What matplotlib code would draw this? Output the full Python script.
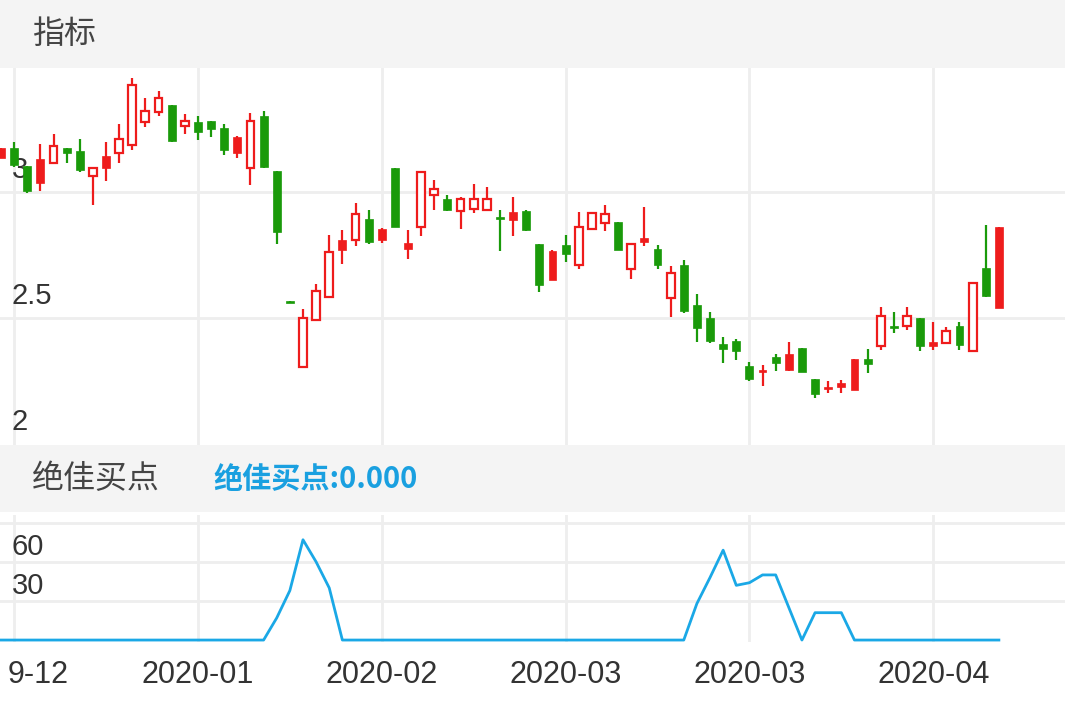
import matplotlib
matplotlib.use("Agg")
import matplotlib.pyplot as plt
from matplotlib.patches import Rectangle

plt.rcParams['font.family'] = ['Noto Sans CJK SC', 'DejaVu Sans']

def pv(y):
    return round(3 - (y - 192) / 252, 3)

highs = [pv(v) for v in [148,142,166,144,134,148,139,167,142,124,78,98,91,105,114,116,121,124,136,113,111,171,301,309,284,235,230,203,210,228,168,230,172,180,195,197,184,187,210,197,210,244,250,235,212,212,205,222,244,207,245,266,260,294,312,337,339,362,365,354,342,348,379,381,380,359,349,307,312,307,318,322,327,322,283,225,227]]
tops = [pv(v) for v in [148,148,166,159,146,148,151,168,156,139,85,111,98,105,121,122,121,128,137,121,116,171,301,318,291,252,240,214,219,229,168,243,172,189,199,199,199,199,217,212,211,244,251,245,227,213,214,222,244,238,249,273,265,305,318,344,341,366,370,357,354,348,379,387,383,359,359,316,326,316,318,342,331,326,283,268,227]]
bots = [pv(v) for v in [158,165,191,183,163,153,170,176,168,153,145,122,112,141,126,132,129,150,153,168,167,232,303,367,320,297,250,240,242,240,227,249,227,195,210,211,209,210,219,220,230,285,280,254,265,229,223,250,269,242,265,298,311,328,341,349,351,379,372,363,370,372,394,389,387,390,364,346,328,326,346,346,343,345,351,296,308]]
lows = [pv(v) for v in [158,167,193,191,163,163,172,205,181,163,150,127,116,142,134,140,137,155,158,185,168,244,303,367,320,297,264,246,244,243,227,259,236,210,211,229,213,210,251,236,231,292,280,262,269,230,231,250,279,246,269,317,313,342,343,363,360,381,386,371,371,372,398,393,393,390,373,350,333,330,351,350,343,350,351,297,308]]
kinds = ['f','d','d','f','u','d','d','u','f','u',
         'u','u','u','d','u','d','d','d','f','u',
         'd','d','d','u','u','u','f','u','d','f',
         'd','f','u','u','d','u','u','u','d','f',
         'd','d','f','d','u','u','u','d','u','f',
         'd','u','d','d','d','d','d','d','f','d',
         'f','d','d','f','f','f','d','u','d','u',
         'd','f','u','d','u','d','f']

buy_points = [0]*20 + [0, 17, 38, 77, 60, 40, 0] + [0]*25 + \
             [0, 28, 48, 69, 42, 44, 50, 50, 25, 0, 21, 21, 21, 0] + [0]*11
date_labels = ["9-12", "2020-01", "2020-02", "2020-03", "2020-03", "2020-04"]
date_idx = [1, 15, 29, 43, 57, 71]

n = len(highs)

W, H = 1065, 708
fig = plt.figure(figsize=(W/100, H/100), dpi=100)
fig.patch.set_facecolor('white')

def ax_px(x0, y0, x1, y1):
    return fig.add_axes([x0/W, 1 - y1/H, (x1-x0)/W, (y1-y0)/H])

for (y0, y1) in [(0, 68), (445, 512)]:
    b = ax_px(0, y0, W, y1)
    b.set_facecolor('#f4f4f4'); b.set_xticks([]); b.set_yticks([])
    for s in b.spines.values(): s.set_visible(False)
fig.text(32/W, 1-34/H, "指标", fontsize=23, color='#444', va='center')
fig.text(32/W, 1-479/H, "绝佳买点", fontsize=23, color='#444', va='center')
fig.text(213/W, 1-479/H, "绝佳买点:0.000", fontsize=21, color='#1aa0e0',
         va='center', fontweight='bold', family=['Noto Sans CJK SC', 'Liberation Serif'])

sp = 13.13
xl = (-1/sp, (W-1)/sp)
grid_c = '#eeeeee'
red, green = '#ee1c1c', '#1a9a0a'
numfont = ['Liberation Sans', 'DejaVu Sans']

ax = ax_px(0, 68, W, 445)
ax.set_xlim(*xl); ax.set_ylim(pv(445), pv(68))
for s in ax.spines.values(): s.set_visible(False)
ax.set_xticks([]); ax.set_yticks([])
for v in [2.5, 3.0]:
    ax.axhline(v, color=grid_c, lw=2, zorder=0)
for i in date_idx:
    ax.axvline(i, color=grid_c, lw=2, zorder=0)
for v, lab in [(2.0, "2"), (2.5, "2.5"), (3.0, "3")]:
    ax.annotate(lab, (0.011, v), xycoords=('axes fraction', 'data'), xytext=(0, 6),
                textcoords='offset points', fontsize=21, color='#333', va='bottom',
                zorder=1, family=numfont)
w = 0.6
for i in range(n):
    k = kinds[i]
    c = green if k == 'd' else red
    ax.plot([i, i], [lows[i], highs[i]], color=c, lw=1.6, zorder=2, solid_capstyle='butt')
    h = max(tops[i] - bots[i], 0.004)
    if k == 'u':
        ax.add_patch(Rectangle((i - w/2, bots[i]), w, h, facecolor='white', edgecolor=c, lw=1.6, zorder=3))
    else:
        ax.add_patch(Rectangle((i - w/2, bots[i]), w, h, facecolor=c, edgecolor=c, lw=0.5, zorder=3))

ax2 = ax_px(0, 515, W, 642)
ax2.set_xlim(*xl); ax2.set_ylim(-1.5, 96)
for s in ax2.spines.values(): s.set_visible(False)
ax2.set_xticks([]); ax2.set_yticks([])
for v in [30, 60, 90]:
    ax2.axhline(v, color=grid_c, lw=2, zorder=0)
for i in date_idx:
    ax2.axvline(i, color=grid_c, lw=2, zorder=0)
for v in [30, 60]:
    ax2.annotate(str(v), (0.011, v), xycoords=('axes fraction', 'data'), xytext=(0, 1),
                 textcoords='offset points', fontsize=21, color='#333', va='bottom',
                 family=numfont)
ax2.plot(range(n), buy_points, color='#1aa8e6', lw=2, zorder=3)

for j, (i, lab) in enumerate(zip(date_idx, date_labels)):
    xpx = (i - xl[0]) / (xl[1] - xl[0]) * W
    if j == 0:
        fig.text(8/W, 1-675/H, lab, fontsize=22, color='#333', ha='left', va='center', family=numfont)
    else:
        fig.text(xpx/W, 1-675/H, lab, fontsize=22, color='#333', ha='center', va='center', family=numfont)

fig.savefig("out.png", dpi=100)
